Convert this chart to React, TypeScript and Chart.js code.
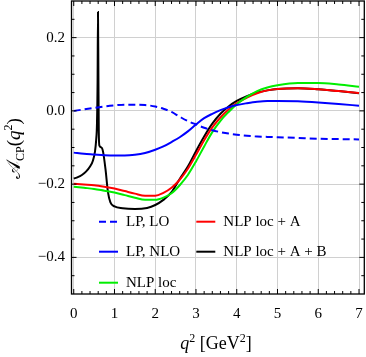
import React, { useEffect, useRef } from 'react';
import { Chart, registerables } from 'chart.js';

Chart.register(...registerables);

// q^2 grid shared by the four smooth curves
const qGrid = [0, 0.25, 0.5, 0.75, 1.0, 1.25, 1.5, 1.75, 2.0, 2.2, 2.4, 2.6, 2.8, 3.0, 3.2, 3.4, 3.6, 3.8, 4.0, 4.25, 4.5, 4.75, 5.0, 5.5, 6.0, 6.5, 7.0];

const lpLo = [0, 0.004, 0.008, 0.012, 0.015, 0.017, 0.017, 0.016, 0.012, 0.006, -0.003, -0.016, -0.028, -0.037, -0.046, -0.053, -0.058, -0.062, -0.065, -0.068, -0.07, -0.071, -0.072, -0.074, -0.076, -0.077, -0.078];

const lpNlo = [-0.114, -0.117, -0.119, -0.121, -0.122, -0.122, -0.12, -0.115, -0.106, -0.097, -0.085, -0.072, -0.056, -0.037, -0.02, -0.008, 0.002, 0.01, 0.016, 0.021, 0.025, 0.027, 0.027, 0.026, 0.023, 0.019, 0.014];

const nlpLoc = [-0.207, -0.21, -0.213, -0.218, -0.223, -0.23, -0.237, -0.243, -0.243, -0.237, -0.225, -0.203, -0.175, -0.138, -0.097, -0.058, -0.027, -0.003, 0.018, 0.038, 0.054, 0.064, 0.07, 0.076, 0.076, 0.072, 0.066];

const nlpLocA = [-0.199, -0.201, -0.203, -0.207, -0.212, -0.219, -0.226, -0.232, -0.232, -0.224, -0.21, -0.188, -0.158, -0.12, -0.08, -0.045, -0.018, 0.004, 0.021, 0.036, 0.048, 0.056, 0.06, 0.062, 0.059, 0.054, 0.049];

// finer q^2 grid for the curve with the resonance
const qGridB = [0, 0.1, 0.2, 0.3, 0.4, 0.47, 0.52, 0.55, 0.57, 0.585, 0.595, 0.605, 0.615, 0.63, 0.68, 0.72, 0.78, 0.84, 0.9, 1.0, 1.2, 1.5, 1.8, 2.0, 2.2, 2.4, 2.6, 2.8, 3.0, 3.2, 3.4, 3.6, 3.8, 4.0, 4.25, 4.5, 4.75, 5.0, 5.5, 6.0, 6.5, 7.0];

const nlpLocAB = [-0.185, -0.181, -0.175, -0.166, -0.152, -0.136, -0.112, -0.08, -0.035, 0.08, 0.27, 0.1, -0.06, -0.095, -0.1, -0.112, -0.16, -0.222, -0.25, -0.261, -0.266, -0.268, -0.265, -0.257, -0.243, -0.222, -0.186, -0.152, -0.11, -0.07, -0.035, -0.008, 0.012, 0.027, 0.04, 0.05, 0.056, 0.06, 0.062, 0.059, 0.054, 0.048];

const xTicks = [0, 1, 2, 3, 4, 5, 6, 7];
const yTicks = [-0.4, -0.2, 0.0, 0.2];
const xMinorStep = 0.2;
const yMinorStep = 0.05;

const seriesLabels = ['LP, LO', 'LP, NLO', 'NLP loc', 'NLP loc + A', 'NLP loc + A + B'];
const seriesColors = ['#0000ff', '#0000ff', '#00ee00', '#ff0000', '#000000'];

const SERIF = '"Liberation Serif", "DejaVu Serif", serif';

const fmtY = (v: number) => {
  if (Math.abs(v) < 1e-9) return '0.0';
  return (v < 0 ? '\u2212' : '') + Math.abs(v).toFixed(1);
};

type Piece = { t: string; font: string; dy: number };

function drawPieces(ctx: CanvasRenderingContext2D, pieces: Piece[], cx: number, baseY: number) {
  let total = 0;
  const widths = pieces.map((p) => {
    ctx.font = p.font;
    const w = ctx.measureText(p.t).width;
    total += w;
    return w;
  });
  let x = cx - total / 2;
  ctx.textAlign = 'left';
  ctx.textBaseline = 'alphabetic';
  pieces.forEach((p, i) => {
    ctx.font = p.font;
    ctx.fillText(p.t, x, baseY + p.dy);
    x += widths[i];
  });
}

const zeroPad = (s: any) => {
  s.paddingLeft = 0;
  s.paddingRight = 0;
  s.paddingTop = 0;
  s.paddingBottom = 0;
};

const framePlugin = {
  id: 'framePlugin',
  afterDatasetsDraw(chart: any) {
    const { ctx, chartArea: a, scales } = chart;
    const xs = scales.x;
    const ys = scales.y;
    ctx.save();
    ctx.strokeStyle = '#000';
    ctx.lineWidth = 1;
    for (let i = 0; i <= 35; i++) {
      const v = i * xMinorStep;
      const px = xs.getPixelForValue(v);
      if (px <= a.left + 0.5 || px >= a.right - 0.5) continue;
      const major = i % 5 === 0;
      const len = major ? 5 : 3;
      ctx.beginPath();
      ctx.moveTo(px, a.bottom);
      ctx.lineTo(px, a.bottom - len);
      ctx.moveTo(px, a.top);
      ctx.lineTo(px, a.top + len);
      ctx.stroke();
    }
    for (let i = 0; i <= 16; i++) {
      const v = -0.5 + i * yMinorStep;
      const py = ys.getPixelForValue(v);
      if (py <= a.top + 0.5 || py >= a.bottom - 0.5) continue;
      const major = i % 4 === 2;
      const len = major ? 5 : 3;
      ctx.beginPath();
      ctx.moveTo(a.left, py);
      ctx.lineTo(a.left + len, py);
      ctx.moveTo(a.right, py);
      ctx.lineTo(a.right - len, py);
      ctx.stroke();
    }
    ctx.lineWidth = 1.3;
    ctx.strokeRect(a.left, a.top, a.right - a.left, a.bottom - a.top);
    ctx.restore();
  },
  afterDraw(chart: any) {
    const { ctx, chartArea: a } = chart;
    const ds = chart.data.datasets;
    ctx.save();
    // legend
    const rows = [220.7, 250.7, 281.7];
    const slots = [
      { col: 0, row: 0 },
      { col: 0, row: 1 },
      { col: 0, row: 2 },
      { col: 1, row: 0 },
      { col: 1, row: 1 },
    ];
    const colLine = [27.5, 124.8];
    ds.forEach((d: any, i: number) => {
      const s = slots[i];
      const y = a.top + rows[s.row];
      const x0 = a.left + colLine[s.col];
      ctx.strokeStyle = d.borderColor;
      ctx.lineWidth = 2;
      ctx.setLineDash(d.borderDash || []);
      ctx.beginPath();
      ctx.moveTo(x0, y);
      ctx.lineTo(x0 + 19, y);
      ctx.stroke();
      ctx.setLineDash([]);
      ctx.fillStyle = '#000';
      ctx.font = '15px ' + SERIF;
      ctx.textAlign = 'left';
      ctx.textBaseline = 'middle';
      ctx.fillText(d.label, x0 + 27, y);
    });

    // x axis title
    ctx.fillStyle = '#000';
    const cx = (a.left + a.right) / 2 - 2;
    drawPieces(
      ctx,
      [
        { t: 'q', font: 'italic 18px ' + SERIF, dy: 0 },
        { t: '2', font: '12px ' + SERIF, dy: -7 },
        { t: ' [GeV', font: '18px ' + SERIF, dy: 0 },
        { t: '2', font: '12px ' + SERIF, dy: -7 },
        { t: ']', font: '18px ' + SERIF, dy: 0 },
      ],
      cx,
      348.5
    );

    // y axis title (rotated)
    ctx.save();
    ctx.translate(19.5, (a.top + a.bottom) / 2 + 1);
    ctx.rotate(-Math.PI / 2);
    drawPieces(
      ctx,
      [
        { t: '\u{1D49C}', font: '19px "DejaVu Sans", "DejaVu Serif", serif', dy: 0 },
        { t: 'CP', font: '12px ' + SERIF, dy: 4 },
        { t: '(', font: '19px ' + SERIF, dy: 0 },
        { t: 'q', font: 'italic 19px ' + SERIF, dy: 0 },
        { t: '2', font: '12px ' + SERIF, dy: -8 },
        { t: ')', font: '19px ' + SERIF, dy: 0 },
      ],
      0,
      0
    );
    ctx.restore();
    ctx.restore();
  },
};

export default function App() {
  const ref = useRef<HTMLCanvasElement>(null);
  useEffect(() => {
    document.body.style.margin = '0';
    const mk = (xs: number[], ys: number[]) => xs.map((x, i) => ({ x, y: ys[i] }));
    const chart = new Chart(ref.current as HTMLCanvasElement, {
      type: 'line',
      data: {
        datasets: [
          { label: seriesLabels[0], data: mk(qGrid, lpLo), borderColor: seriesColors[0], borderDash: [7, 4] },
          { label: seriesLabels[1], data: mk(qGrid, lpNlo), borderColor: seriesColors[1] },
          { label: seriesLabels[2], data: mk(qGrid, nlpLoc), borderColor: seriesColors[2] },
          { label: seriesLabels[3], data: mk(qGrid, nlpLocA), borderColor: seriesColors[3] },
          { label: seriesLabels[4], data: mk(qGridB, nlpLocAB), borderColor: seriesColors[4] },
        ] as any,
      },
      options: {
        animation: false,
        responsive: false,
        maintainAspectRatio: false,
        parsing: false as any,
        layout: { autoPadding: false, padding: { left: 0, right: 1.7, top: 1, bottom: 0 } },
        elements: {
          point: { radius: 0 },
          line: { borderWidth: 2, cubicInterpolationMode: 'monotone', fill: false },
        },
        plugins: { legend: { display: false }, tooltip: { enabled: false } },
        scales: {
          x: {
            type: 'linear',
            min: -0.055,
            max: 7.13,
            afterBuildTicks: (s: any) => {
              s.ticks = xTicks.map((v) => ({ value: v }));
            },
            afterFit: (s: any) => {
              s.height = 63;
              zeroPad(s);
            },
            grid: { color: '#d0d0d0', lineWidth: 1, drawTicks: false },
            border: { display: false },
            ticks: {
              padding: 11,
              color: '#000',
              font: { family: SERIF, size: 15 },
              maxRotation: 0,
              callback: (v: any) => String(v),
            },
          },
          y: {
            type: 'linear',
            min: -0.5,
            max: 0.3,
            afterBuildTicks: (s: any) => {
              s.ticks = yTicks.map((v) => ({ value: v }));
            },
            afterFit: (s: any) => {
              s.width = 71.5;
              zeroPad(s);
            },
            grid: { color: '#d0d0d0', lineWidth: 1, drawTicks: false },
            border: { display: false },
            ticks: {
              padding: 6.5,
              color: '#000',
              font: { family: SERIF, size: 15 },
              callback: (v: any) => fmtY(Number(v)),
            },
          },
        },
      } as any,
      plugins: [framePlugin],
    });
    return () => chart.destroy();
  }, []);
  return (
    <div style={{ width: 366, height: 357 }}>
      <canvas ref={ref} width={366} height={357} style={{ display: 'block' }} />
    </div>
  );
}
